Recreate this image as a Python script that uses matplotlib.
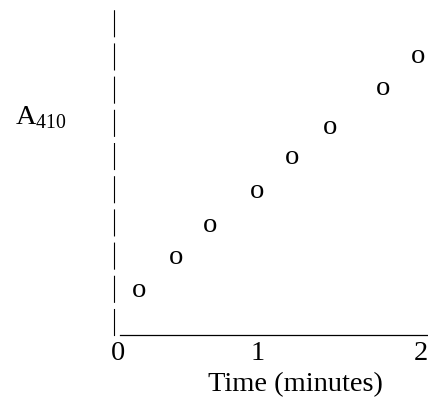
import matplotlib
matplotlib.use("Agg")
import matplotlib.pyplot as plt

# A410 readings over time
time_min = [0.14, 0.38, 0.61, 0.92, 1.15, 1.40, 1.75, 1.98]
a410 = [0.138, 0.240, 0.338, 0.440, 0.545, 0.640, 0.757, 0.858]

# x tick positions as drawn, and their labels
tick_pos = [0.0, 0.92, 2.0]
tick_labels = ["0", "1", "2"]

plt.rcParams["font.family"] = "Liberation Serif"
plt.rcParams["mathtext.fontset"] = "custom"
plt.rcParams["mathtext.rm"] = "Liberation Serif"
plt.rcParams["lines.scale_dashes"] = False

W, H = 428, 398
fig = plt.figure(figsize=(W / 100, H / 100), dpi=100)
ax = fig.add_axes([113.5 / W, (H - 335) / H, (W - 113.5) / W, 325 / H])

# points are drawn as "o" characters
for x, y in zip(time_min, a410):
    ax.text(x, y, "o", fontsize=20.5, ha="center", va="center")

ax.set_xlim(-0.03, 2.046)
ax.set_ylim(0, 1)
ax.set_xticks(tick_pos)
ax.set_xticklabels(tick_labels, fontsize=20.5)
ax.set_yticks([])
ax.tick_params(axis="x", length=0, pad=4)

for side in ["top", "right"]:
    ax.spines[side].set_visible(False)
ax.spines["bottom"].set_linewidth(0.9)
ax.spines["bottom"].set_bounds(0.015, 2.046)
ax.spines["left"].set_linewidth(0.8)
ax.spines["left"].set_linestyle((0, (18.7, 5.2)))

fig.text(15 / W, 1 - 118 / H, r"$\mathrm{A}_{410}$", fontsize=20.5, va="center", ha="left")
fig.text(295 / W, 1 - 391 / H, "Time (minutes)", fontsize=20.5, ha="center", va="baseline")

fig.savefig("out.png", dpi=100)
